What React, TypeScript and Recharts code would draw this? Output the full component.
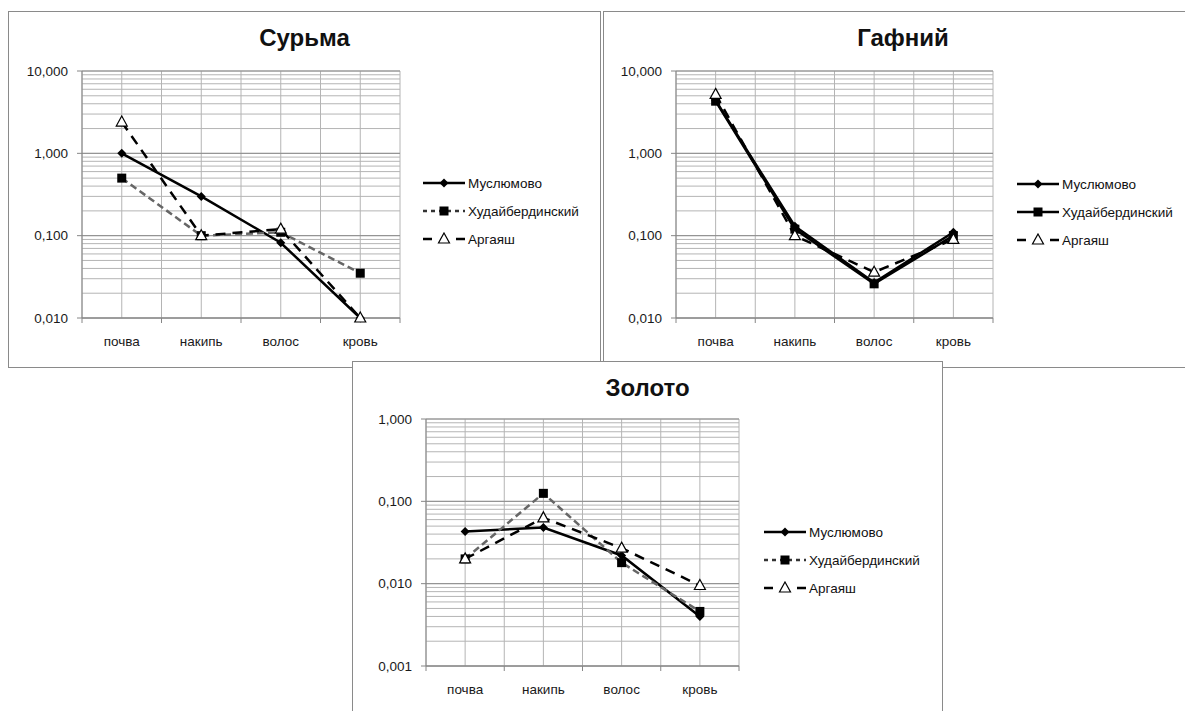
import React from "react";
import { LineChart, Line, XAxis, YAxis, CartesianGrid, ReferenceLine, Legend } from "recharts";

const FONT = '"Liberation Sans", Arial, sans-serif';

const categories = ["почва", "накипь", "волос", "кровь"];
const seriesNames = ["Муслюмово", "Худайбердинский", "Аргаяш"];

// Сурьма
const antimonyMuslyumovo = [1.0, 0.3, 0.082, 0.01];
const antimonyKhudai = [0.5, 0.1, 0.11, 0.035];
const antimonyArgayash = [2.4, 0.1, 0.12, 0.01];

// Гафний
const hafniumMuslyumovo = [4.4, 0.13, 0.027, 0.11];
const hafniumKhudai = [4.3, 0.12, 0.026, 0.1];
const hafniumArgayash = [5.2, 0.1, 0.036, 0.09];

// Золото
const goldMuslyumovo = [0.043, 0.048, 0.022, 0.004];
const goldKhudai = [0.02, 0.125, 0.018, 0.0046];
const goldArgayash = [0.02, 0.063, 0.027, 0.0095];

// decade tick labels of the log axes
const decadesHigh = [0.01, 0.1, 1, 10];
const decadesLow = [0.001, 0.01, 0.1, 1];

const minorSteps = [1, 2, 3, 4, 5, 6, 7, 8, 9];

function logTicks(decades: number[]) {
  const out: number[] = [];
  decades.slice(0, -1).forEach((d) => minorSteps.forEach((k) => out.push(+(d * k).toPrecision(6))));
  out.push(decades[decades.length - 1]);
  return out;
}

// category centres sit between gridlines, so x runs 0..n
const xTicks = categories.flatMap((_, i) => [i, i + 0.5]).concat(categories.length);

type Kind = "diamond" | "square" | "triangle";
type SeriesStyle = { stroke: string; dash?: string; legendDash?: string; marker: Kind };

const solidBlack: SeriesStyle = { stroke: "#000", marker: "diamond" };
const dashedGray: SeriesStyle = { stroke: "#666", dash: "7 4", legendDash: "4 4", marker: "square" };
const solidBlackSquare: SeriesStyle = { stroke: "#000", marker: "square" };
const longDash: SeriesStyle = { stroke: "#000", dash: "10 7", legendDash: "9 24", marker: "triangle" };

function Marker({ cx, cy, kind }: { cx?: number; cy?: number; kind: Kind }) {
  if (cx == null || cy == null) return null;
  if (kind === "diamond")
    return <polygon points={`${cx},${cy - 4.5} ${cx + 4.5},${cy} ${cx},${cy + 4.5} ${cx - 4.5},${cy}`} fill="#000" />;
  if (kind === "square") return <rect x={cx - 4.5} y={cy - 4.5} width={9} height={9} fill="#000" />;
  return (
    <polygon
      points={`${cx},${cy - 6} ${cx + 5.5},${cy + 4} ${cx - 5.5},${cy + 4}`}
      fill="#fff"
      stroke="#000"
      strokeWidth={1.2}
    />
  );
}

const fmt = (v: number) => v.toFixed(3).replace(".", ",");

function YTick(props: any) {
  const { x, y, payload, decades } = props;
  const v = payload.value;
  if (!decades.some((d: number) => Math.abs(d - v) / d < 1e-6)) return null;
  return (
    <g>
      <line x1={x + 9} x2={x + 14} y1={y} y2={y} stroke="#868686" />
      <text x={x} y={y} dy="0.35em" textAnchor="end" fontFamily={FONT} fontSize={13.5} fill="#1a1a1a">
        {fmt(v)}
      </text>
    </g>
  );
}

function XTick(props: any) {
  const { x, y, payload } = props;
  const v = payload.value;
  if (Number.isInteger(v)) {
    return <line x1={x} x2={x} y1={y - 19} y2={y - 14} stroke="#868686" />;
  }
  return (
    <text x={x} y={y} dy={9} textAnchor="middle" fontFamily={FONT} fontSize={13.5} fill="#1a1a1a">
      {categories[Math.floor(v)]}
    </text>
  );
}

function LegendBox({ styles }: { styles: SeriesStyle[] }) {
  return (
    <div style={{ fontFamily: FONT, fontSize: 13.5, color: "#111" }}>
      {seriesNames.map((name, i) => (
        <div key={name} style={{ display: "flex", alignItems: "center", height: 28 }}>
          <svg width={42} height={14}>
            <line
              x1={0}
              x2={42}
              y1={7}
              y2={7}
              stroke={styles[i].stroke === "#666" ? "#333" : styles[i].stroke}
              strokeWidth={2.5}
              strokeDasharray={styles[i].legendDash}
            />
            <Marker cx={21} cy={7} kind={styles[i].marker} />
          </svg>
          <span style={{ marginLeft: 3 }}>{name}</span>
        </div>
      ))}
    </div>
  );
}

type Panel = {
  title: string;
  left: number;
  top: number;
  width: number;
  height: number;
  plotLeft: number;
  plotTop: number;
  plotWidth: number;
  plotHeight: number;
  decades: number[];
  values: number[][];
  styles: SeriesStyle[];
  legendLeft: number;
  legendTop: number;
};

const panels: Panel[] = [
  {
    title: "Сурьма",
    left: 8,
    top: 11,
    width: 593,
    height: 357,
    plotLeft: 74,
    plotTop: 60,
    plotWidth: 318,
    plotHeight: 247,
    decades: decadesHigh,
    values: [antimonyMuslyumovo, antimonyKhudai, antimonyArgayash],
    styles: [solidBlack, dashedGray, longDash],
    legendLeft: 415,
    legendTop: 158,
  },
  {
    title: "Гафний",
    left: 603,
    top: 11,
    width: 600,
    height: 357,
    plotLeft: 73,
    plotTop: 60,
    plotWidth: 317,
    plotHeight: 247,
    decades: decadesHigh,
    values: [hafniumMuslyumovo, hafniumKhudai, hafniumArgayash],
    styles: [solidBlack, solidBlackSquare, longDash],
    legendLeft: 414,
    legendTop: 159,
  },
  {
    title: "Золото",
    left: 352,
    top: 361,
    width: 591,
    height: 357,
    plotLeft: 74,
    plotTop: 58,
    plotWidth: 313,
    plotHeight: 247,
    decades: decadesLow,
    values: [goldMuslyumovo, goldKhudai, goldArgayash],
    styles: [solidBlack, dashedGray, longDash],
    legendLeft: 412,
    legendTop: 157,
  },
];

const Y_AXIS_W = 60;
const X_AXIS_H = 30;

function PanelChart({ p }: { p: Panel }) {
  const rows = categories.map((c, i) => ({
    x: i + 0.5,
    cat: c,
    s0: p.values[0][i],
    s1: p.values[1][i],
    s2: p.values[2][i],
  }));
  const ticks = logTicks(p.decades);
  const domain = [p.decades[0], p.decades[p.decades.length - 1]];
  return (
    <div
      style={{
        position: "absolute",
        left: p.left,
        top: p.top,
        width: p.width,
        height: p.height,
        background: "#fff",
        boxShadow: "inset 0 0 0 1px #8a8a8a",
      }}
    >
      <div
        style={{
          position: "absolute",
          left: 0,
          right: 0,
          top: 15,
          textAlign: "center",
          fontFamily: FONT,
          fontWeight: "bold",
          fontSize: 24,
          lineHeight: "24px",
          color: "#111",
        }}
      >
        {p.title}
      </div>
      <div style={{ position: "absolute", left: 0, top: 0 }}>
        <LineChart
          width={p.width}
          height={p.height}
          data={rows}
          margin={{
            top: p.plotTop,
            left: p.plotLeft - Y_AXIS_W,
            right: p.width - p.plotLeft - p.plotWidth,
            bottom: p.height - p.plotTop - p.plotHeight - X_AXIS_H,
          }}
        >
          <CartesianGrid stroke="#b4b4b4" strokeWidth={1} />
          {p.decades.map((d) => (
            <ReferenceLine key={d} y={d} stroke="#8c8c8c" strokeWidth={1} />
          ))}
          <XAxis
            type="number"
            dataKey="x"
            domain={[0, categories.length]}
            ticks={xTicks}
            interval={0}
            height={X_AXIS_H}
            tickSize={5}
            tickMargin={14}
            tickLine={false}
            axisLine={{ stroke: "#868686" }}
            tick={<XTick />}
            allowDecimals
          />
          <YAxis
            scale="log"
            type="number"
            domain={domain}
            ticks={ticks}
            interval={0}
            width={Y_AXIS_W}
            tickSize={5}
            tickMargin={9}
            tickLine={false}
            axisLine={{ stroke: "#868686" }}
            tick={(tp: any) => <YTick {...tp} decades={p.decades} />}
          />
          {[0, 1, 2].map((i) => {
            const st = p.styles[i];
            return (
              <Line
                key={i}
                type="linear"
                dataKey={`s${i}`}
                name={seriesNames[i]}
                stroke={st.stroke}
                strokeWidth={2.5}
                strokeDasharray={st.dash}
                isAnimationActive={false}
                dot={(dp: any) => <Marker key={`d${i}-${dp.index}`} cx={dp.cx} cy={dp.cy} kind={st.marker} />}
                activeDot={false}
              />
            );
          })}
          <Legend
            layout="vertical"
            align="center"
            verticalAlign="middle"
            wrapperStyle={{ left: p.legendLeft, top: p.legendTop, width: "auto" }}
            content={() => <LegendBox styles={p.styles} />}
          />
        </LineChart>
      </div>
    </div>
  );
}

export default function App() {
  return (
    <div
      style={{
        position: "absolute",
        left: 0,
        top: 0,
        width: 1185,
        height: 711,
        overflow: "hidden",
        background: "#fff",
      }}
    >
      {panels.map((p) => (
        <PanelChart key={p.title} p={p} />
      ))}
    </div>
  );
}
